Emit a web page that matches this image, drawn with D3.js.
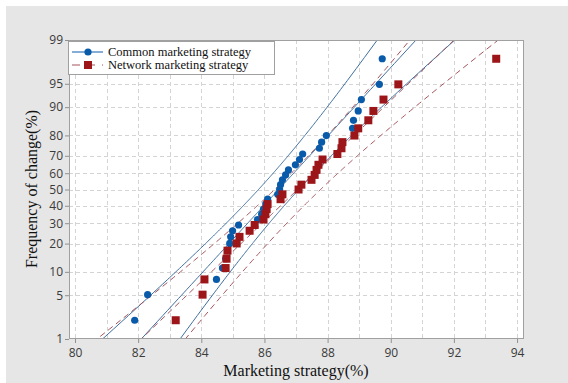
<!DOCTYPE html>
<html>
<head>
<meta charset="utf-8">
<script src="https://cdn.jsdelivr.net/npm/d3@7"></script>
<style>
  html, body { margin: 0; padding: 0; background: #ffffff; }
  svg { display: block; }
</style>
</head>
<body>
<svg id="chart" width="568" height="383"></svg>
<script>
// Sorted observations (%) for each strategy
const commonValues = [81.89, 82.30, 84.48, 84.67, 84.77, 84.83, 84.90, 84.93, 84.99, 85.18,
                      85.78, 85.91, 85.97, 86.04, 86.10, 86.42, 86.48, 86.51, 86.57, 86.67,
                      86.76, 86.98, 87.11, 87.21, 87.74, 87.81, 87.96, 88.79, 88.82, 88.97,
                      89.07, 89.64, 89.73];
const networkValues = [83.19, 84.04, 84.10, 84.77, 84.80, 84.83, 85.12, 85.21, 85.53, 85.69,
                       85.97, 86.03, 86.07, 86.10, 86.51, 86.57, 87.08, 87.17, 87.49, 87.59,
                       87.65, 87.71, 87.84, 88.31, 88.44, 88.47, 88.85, 88.97, 89.29, 89.45,
                       89.77, 90.24, 93.34];
const seriesNames = ["Common marketing strategy", "Network marketing strategy"];
// Fitted normal parameters (mean, standard deviation) per series
const fitMeans = [86.45, 87.05];
const fitSds = [1.87, 2.13];
const sampleSizes = [33, 33];
const xTicks = [80, 82, 84, 86, 88, 90, 92, 94];
const xGrid = [80, 81, 82, 83, 84, 85, 86, 87, 88, 89, 90, 91, 92, 93, 94];
const yTicks = [1, 5, 10, 20, 30, 40, 50, 60, 70, 80, 90, 95, 99];

// Inverse standard normal CDF (Acklam)
function normInv(p) {
  const a = [-3.969683028665376e+01, 2.209460984245205e+02, -2.759285104469687e+02,
             1.383577518672690e+02, -3.066479806614716e+01, 2.506628277459239e+00];
  const b = [-5.447609879822406e+01, 1.615858368580409e+02, -1.556989798598866e+02,
             6.680131188771972e+01, -1.328068155288572e+01];
  const c = [-7.784894002430293e-03, -3.223964580411365e-01, -2.400758277161838e+00,
             -2.549732539343734e+00, 4.374664141464968e+00, 2.938163982698783e+00];
  const d = [7.784695709041462e-03, 3.224671290700398e-01, 2.445134137142996e+00,
             3.754408661907416e+00];
  const pl = 0.02425, ph = 1 - pl;
  let q, r;
  if (p < pl) {
    q = Math.sqrt(-2 * Math.log(p));
    return (((((c[0]*q+c[1])*q+c[2])*q+c[3])*q+c[4])*q+c[5]) / ((((d[0]*q+d[1])*q+d[2])*q+d[3])*q+1);
  } else if (p <= ph) {
    q = p - 0.5; r = q * q;
    return (((((a[0]*r+a[1])*r+a[2])*r+a[3])*r+a[4])*r+a[5])*q / (((((b[0]*r+b[1])*r+b[2])*r+b[3])*r+b[4])*r+1);
  } else {
    q = Math.sqrt(-2 * Math.log(1 - p));
    return -(((((c[0]*q+c[1])*q+c[2])*q+c[3])*q+c[4])*q+c[5]) / ((((d[0]*q+d[1])*q+d[2])*q+d[3])*q+1);
  }
}

const svg = d3.select("#chart");
const frame = { left: 69, top: 40, right: 524, bottom: 339 };

// Grey page
svg.append("rect").attr("x", 6).attr("y", 6).attr("width", 562).attr("height", 377).attr("fill", "#e6e6e6");

const x = d3.scaleLinear().domain([79.81, 94.22]).range([frame.left, frame.right]);
// Probability axis: linear in the normal quantile
const z = d3.scaleLinear().domain([normInv(0.01), normInv(0.99)]).range([frame.bottom, frame.top]);
const yP = pct => z(normInv(pct / 100));

svg.append("rect").attr("x", frame.left).attr("y", frame.top)
  .attr("width", frame.right - frame.left).attr("height", frame.bottom - frame.top)
  .attr("fill", "#ffffff");

svg.append("defs").append("clipPath").attr("id", "plotClip")
  .append("rect").attr("x", frame.left).attr("y", frame.top)
  .attr("width", frame.right - frame.left).attr("height", frame.bottom - frame.top);

// Grid
const grid = svg.append("g").attr("stroke", "#d4d4d4").attr("stroke-width", 1).attr("stroke-dasharray", "4,3");
grid.selectAll("line.v").data(xGrid).join("line").attr("class", "v")
  .attr("x1", d => Math.round(x(d)) + 0.5).attr("x2", d => Math.round(x(d)) + 0.5)
  .attr("y1", frame.top).attr("y2", frame.bottom);
grid.selectAll("line.h").data(yTicks.filter(t => t > 1 && t < 99)).join("line").attr("class", "h")
  .attr("x1", frame.left).attr("x2", frame.right)
  .attr("y1", d => Math.round(yP(d)) + 0.5).attr("y2", d => Math.round(yP(d)) + 0.5);

// Fitted percentile lines and 95% confidence bands
const probs = d3.range(0.5, 99.6, 0.5).map(p => p / 100);
const lineStyles = [
  { stroke: "#3f6f9f", dash: null },
  { stroke: "#a5545c", dash: "6,4" }
];
const plotArea = svg.append("g").attr("clip-path", "url(#plotClip)");
[0, 1].forEach(s => {
  const mu = fitMeans[s], sd = fitSds[s], n = sampleSizes[s];
  const pts = probs.map(p => {
    const zp = normInv(p);
    const c = mu + zp * sd;
    const hw = 1.96 * sd * Math.sqrt(1 / n + zp * zp / (2 * n));
    return { p, c, lo: c - hw, hi: c + hw };
  });
  const mk = key => d3.line().x(d => x(d[key])).y(d => z(normInv(d.p)))(pts);
  ["lo", "c", "hi"].forEach(k => {
    plotArea.append("path").attr("d", mk(k))
      .attr("fill", "none").attr("stroke", lineStyles[s].stroke).attr("stroke-width", 1)
      .attr("stroke-dasharray", lineStyles[s].dash);
  });
});

// Points at median-rank plotting positions
function positions(values) {
  const n = values.length;
  return values.map((v, i) => ({ v, p: (i + 1 - 0.3) / (n + 0.4) }));
}
plotArea.append("g").selectAll("circle").data(positions(commonValues)).join("circle")
  .attr("cx", d => x(d.v)).attr("cy", d => z(normInv(d.p))).attr("r", 3.6)
  .attr("fill", "#0a5aaa");
plotArea.append("g").selectAll("rect").data(positions(networkValues)).join("rect")
  .attr("x", d => x(d.v) - 4).attr("y", d => z(normInv(d.p)) - 4)
  .attr("width", 8).attr("height", 8).attr("fill", "#9c1518");

// Frame
svg.append("rect").attr("x", frame.left + 0.5).attr("y", frame.top + 0.5)
  .attr("width", frame.right - frame.left - 1).attr("height", frame.bottom - frame.top - 1)
  .attr("fill", "none").attr("stroke", "#a0a0a0").attr("stroke-width", 1);

// Axes
const tickFont = "'Open Sans', 'Noto Sans', sans-serif";
const xAxis = svg.append("g").attr("transform", `translate(0,${frame.bottom})`)
  .call(d3.axisBottom(x).tickValues(xTicks).tickSize(4).tickSizeOuter(0).tickFormat(d3.format("d")));
const yAxis = svg.append("g").attr("transform", `translate(${frame.left},0)`)
  .call(d3.axisLeft(z).tickValues(yTicks.map(t => normInv(t / 100))).tickSize(4).tickSizeOuter(0)
    .tickFormat((d, i) => yTicks[i]));
[xAxis, yAxis].forEach(g => {
  g.select(".domain").remove();
  g.selectAll(".tick line").attr("stroke", "#909090");
  g.selectAll(".tick text").attr("fill", "#3a3a3a").style("font-family", tickFont).style("font-size", "12px");
});
xAxis.selectAll(".tick text").attr("dy", "0.9em");
yAxis.selectAll(".tick text").attr("x", -6);

// Axis titles
svg.append("text").attr("x", 296).attr("y", 376).attr("text-anchor", "middle")
  .style("font-family", "'Liberation Serif', 'Times New Roman', serif").style("font-size", "16px")
  .attr("fill", "#111").text("Marketing strategy(%)");
svg.append("text").attr("transform", "translate(37,189) rotate(-90)").attr("text-anchor", "middle")
  .style("font-family", "'Liberation Serif', 'Times New Roman', serif").style("font-size", "16px")
  .attr("fill", "#111").text("Frequency of change(%)");

// Legend
const legend = svg.append("g");
legend.append("rect").attr("x", 68.5).attr("y", 41.5).attr("width", 206).attr("height", 33)
  .attr("fill", "#ffffff").attr("stroke", "#a0a0a0");
const legY = [52, 65];
legend.append("line").attr("x1", 72).attr("x2", 103).attr("y1", legY[0]).attr("y2", legY[0])
  .attr("stroke", "#0a5aaa").attr("stroke-width", 1);
legend.append("circle").attr("cx", 88).attr("cy", legY[0]).attr("r", 3.6).attr("fill", "#0a5aaa");
legend.append("line").attr("x1", 72).attr("x2", 103).attr("y1", legY[1]).attr("y2", legY[1])
  .attr("stroke", "#a5545c").attr("stroke-width", 1).attr("stroke-dasharray", "8,7");
legend.append("rect").attr("x", 84).attr("y", legY[1] - 4).attr("width", 8).attr("height", 8).attr("fill", "#9c1518");
legend.selectAll("text.lbl").data(seriesNames).join("text").attr("class", "lbl")
  .attr("x", 108).attr("y", (d, i) => legY[i] + 4)
  .style("font-family", "'Liberation Serif', 'Times New Roman', serif").style("font-size", "12.5px")
  .attr("fill", "#111").text(d => d);
</script>
</body>
</html>
